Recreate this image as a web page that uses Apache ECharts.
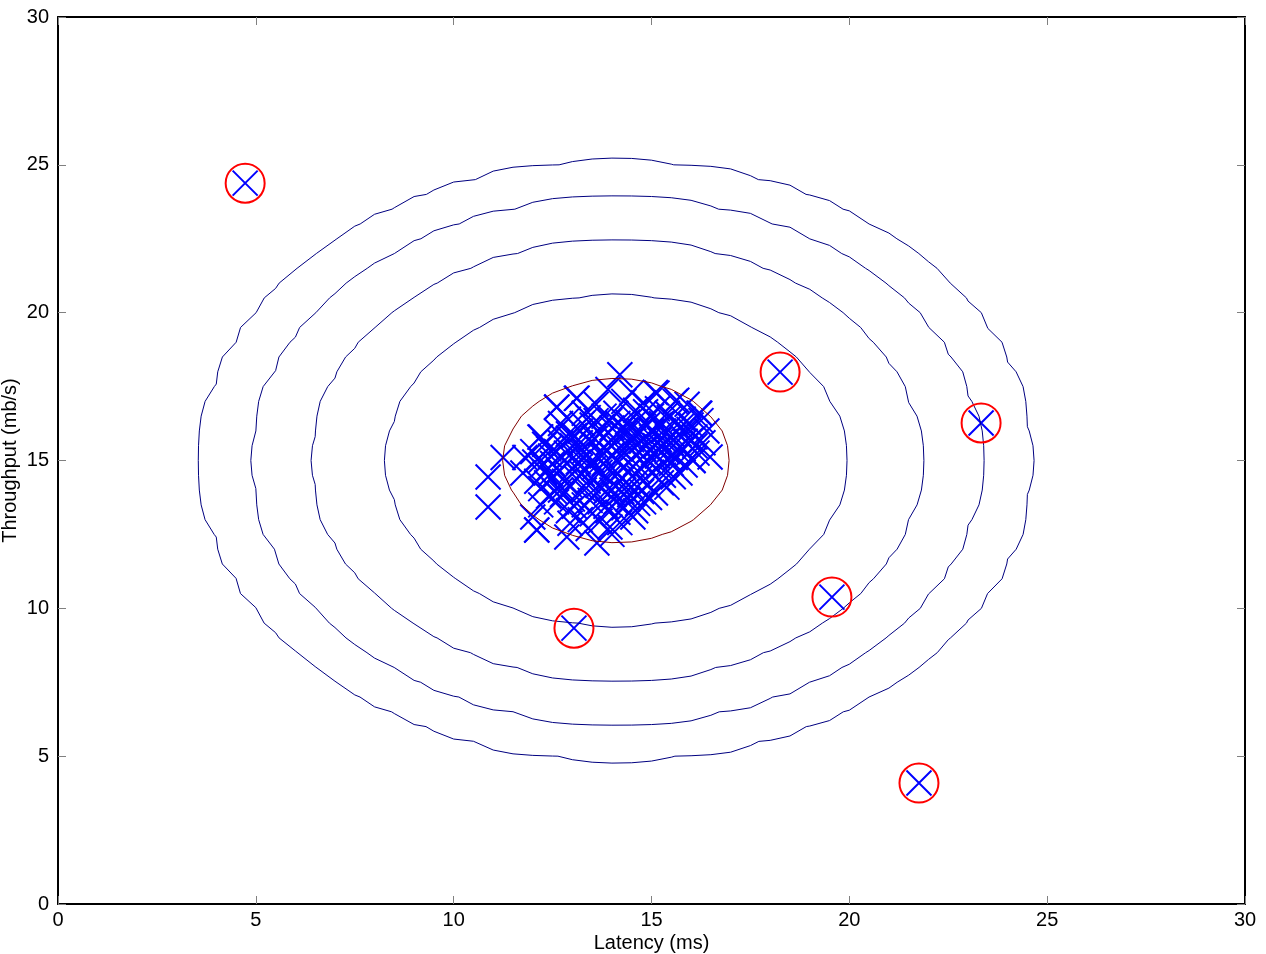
<!DOCTYPE html>
<html>
<head>
<meta charset="utf-8">
<script src="https://cdn.jsdelivr.net/npm/echarts@6/dist/echarts.min.js"></script>
<style>
html,body{margin:0;padding:0;background:#fff;}
#chart{width:1266px;height:954px;}
</style>
</head>
<body>
<div id="chart"></div>
<script>
// ---- data ----
const xTicks = [0, 5, 10, 15, 20, 25, 30];
const yTicks = [0, 5, 10, 15, 20, 25, 30];

// Gaussian fit (mean and variances) whose density contours are drawn
const mu = [14.112, 14.998];
const sigma2 = [1.8326, 1.7097];
const contourLevels = [1e-14, 1e-11, 1e-8, 1e-5, 1e-2];
const contourColors = ['#000080', '#000080', '#000080', '#000080', '#800000'];

// flagged anomalies (red circles)
const outliers = [
  [4.73, 24.38], [18.25, 17.99], [23.33, 16.27],
  [19.56, 10.38], [13.04, 9.33], [21.76, 4.09]
];

// main cloud of observations (latency, throughput)
const points = [
  [14.2,17.9],[13.9,17.4],[14.5,17.3],
  [13.1,17.1],[15.1,17.3],[15.6,17.0],[14.3,17.0],[13.6,16.9],[14.8,16.95],[12.6,16.8],[15.9,16.9],
  [13.3,16.6],[13.8,16.5],[14.1,16.6],[14.6,16.7],[15.0,16.5],[15.4,16.6],[15.8,16.4],[16.2,16.6],[12.9,16.4],[14.4,16.3],[15.2,16.2],[15.6,16.3],[16.0,16.2],[13.5,16.2],[12.6,16.0],
  [12.9,15.9],[13.2,16.0],[13.7,15.9],[14.0,16.1],[14.3,15.9],[14.7,16.0],[15.0,15.8],[15.3,16.0],[15.7,15.9],[16.1,15.8],[16.4,16.0],[13.4,15.7],[14.5,15.7],[14.9,16.2],[15.5,15.6],[12.2,15.8],
  [12.4,15.4],[12.7,15.6],[13.0,15.5],[13.3,15.3],[13.6,15.5],[13.9,15.6],[14.2,15.4],[14.4,15.5],[14.8,15.4],[15.1,15.5],[15.4,15.3],[15.8,15.4],[16.1,15.5],[13.1,15.2],[14.0,15.2],[14.6,15.2],[15.6,15.1],[12.0,15.3],[11.8,15.1],[11.25,15.1],
  [12.2,15.0],[12.5,14.9],[12.8,15.0],[13.2,14.8],[13.5,15.0],[13.8,14.9],[14.1,15.0],[14.3,14.8],[14.6,14.9],[14.9,15.0],[15.2,14.8],[15.5,14.9],[16.05,15.0],[16.48,15.12],[13.0,14.7],[13.7,14.6],[14.4,14.6],[15.0,14.6],[15.3,14.5],[11.75,14.58],[12.3,14.6],
  [12.1,14.3],[12.5,14.4],[12.8,14.3],[13.1,14.4],[13.4,14.3],[13.9,14.4],[14.2,14.3],[14.7,14.4],[15.72,14.58],[15.39,14.1],[12.7,14.0],[13.3,14.0],[13.6,13.9],[14.0,14.0],[14.5,14.1],[14.9,14.2],[15.1,13.9],[12.4,13.8],[10.87,14.44],
  [12.6,13.6],[13.0,13.7],[13.3,13.5],[13.7,13.6],[14.1,13.6],[14.4,13.7],[14.8,13.6],[12.9,13.3],[13.5,13.2],[13.9,13.3],[14.3,13.4],[14.6,13.3],[12.0,13.09],[13.2,13.0],[14.53,13.09],[10.87,13.43],
  [12.1,12.65],[12.86,12.41],[13.62,12.21],[12.94,12.88],[13.95,12.75],[13.4,12.7],
  [13.85,15.35],[14.05,15.75],[14.25,15.15],[14.35,16.05],[14.55,15.45],[14.75,15.65],[14.95,15.35],[15.15,15.15],[15.35,15.65],[15.55,15.85],[15.75,16.15],[15.95,16.05],
  [13.55,14.75],[13.75,15.15],[13.95,14.65],[14.15,14.55],[14.35,14.25],[14.65,14.65],[14.85,14.85],[15.05,15.25],[15.25,15.45],[15.45,15.05],[15.65,15.35],[15.85,15.65],[16.25,16.35],[16.15,15.25],
  [13.25,14.55],[13.45,14.85],[13.65,14.15],[13.85,13.95],[14.05,13.85],[14.25,13.95],[14.45,13.85],[14.75,13.95],[12.95,14.15],[13.15,14.95],[13.35,15.15],[13.55,15.75],[13.75,16.15],[13.95,16.35],[14.15,16.25],[14.55,16.45],[14.85,16.65],[15.15,16.75],[15.45,16.45],[15.25,16.25],
  [12.85,15.25],[12.65,14.65],[12.45,15.15],[12.25,14.85],[13.05,15.85],[13.25,16.25],[12.75,13.85],[13.05,13.45],[13.45,13.65],[13.85,13.45],[14.15,13.25],[14.65,13.55],[14.95,13.75],[15.25,14.25],[15.55,14.45],[15.85,14.85],
  [16.0,15.7],[16.3,15.6],[15.9,15.2],[14.4,15.95],[14.6,15.95],[14.8,15.75],[15.0,16.0],[15.2,15.7],[13.6,16.35],[13.2,15.6],[12.9,15.75],[12.6,15.3],[12.35,14.25],[12.55,13.95],[12.2,13.5],[13.7,12.95],[14.2,12.9],[14.0,12.5],
  [16.22,16.6],[15.64,17.04],[15.14,17.28],[16.05,15.0],[12.61,16.81],[13.12,17.11],[12.18,15.79],[12.1,12.65],
  [12.3,15.55],[12.45,14.55],[12.05,14.95],[12.7,16.25],[13.4,16.45],[12.2,14.05]
];

// ---- contour lines of the fitted density, traced on a 0.5 grid ----
function density(x, y) {
  const dx = x - mu[0], dy = y - mu[1];
  return Math.exp(-0.5 * (dx * dx / sigma2[0] + dy * dy / sigma2[1])) /
         (2 * Math.PI * Math.sqrt(sigma2[0] * sigma2[1]));
}
const step = 0.5, nGrid = 71;
const Z = [];
for (let i = 0; i < nGrid; i++) {
  Z.push([]);
  for (let j = 0; j < nGrid; j++) Z[i].push(density(i * step, j * step));
}
function contour(L) {
  const pts = [];
  for (let i = 0; i < nGrid; i++) {
    for (let j = 0; j < nGrid; j++) {
      if (i + 1 < nGrid) {
        const a = Z[i][j], b = Z[i + 1][j];
        if ((a - L) * (b - L) < 0) {
          const t = (L - a) / (b - a);
          pts.push([(i + t) * step, j * step]);
        }
      }
      if (j + 1 < nGrid) {
        const a = Z[i][j], b = Z[i][j + 1];
        if ((a - L) * (b - L) < 0) {
          const t = (L - a) / (b - a);
          pts.push([i * step, (j + t) * step]);
        }
      }
    }
  }
  pts.sort((p, q) => Math.atan2(p[1] - mu[1], p[0] - mu[0]) - Math.atan2(q[1] - mu[1], q[0] - mu[0]));
  if (pts.length) pts.push(pts[0].slice());
  return pts;
}

const font = 'Liberation Sans, Helvetica, Arial, sans-serif';
const tickStyle = { inside: true, length: 8, lineStyle: { color: '#808080', width: 1 } };
const lineStyleAxis = { show: true, onZero: false, lineStyle: { color: '#000', width: 2 } };

const series = [];
series.push({
  type: 'scatter',
  data: points.concat(outliers),
  symbol: 'path://M0,0L20,20M20,0L0,20',
  symbolSize: 25,
  itemStyle: { color: 'none', borderColor: '#0000ff', borderWidth: 2, opacity: 1 },
  silent: true,
  z: 2
});
contourLevels.forEach((L, k) => {
  series.push({
    type: 'line',
    data: contour(L),
    showSymbol: false,
    symbol: 'none',
    smooth: false,
    lineStyle: { color: contourColors[k], width: 1 },
    silent: true,
    z: 3
  });
});
series.push({
  type: 'scatter',
  data: outliers,
  symbol: 'circle',
  symbolSize: 39,
  itemStyle: { color: 'none', borderColor: '#ff0000', borderWidth: 2, opacity: 1 },
  silent: true,
  z: 4
});

const chart = echarts.init(document.getElementById('chart'), null, { renderer: 'canvas' });
chart.setOption({
  animation: false,
  backgroundColor: '#fff',
  grid: { left: 58, right: 21, top: 17, bottom: 50, containLabel: false, outerBoundsMode: 'none' },
  xAxis: [
    {
      type: 'value', min: xTicks[0], max: xTicks[xTicks.length - 1], interval: xTicks[1] - xTicks[0],
      position: 'bottom',
      axisLine: lineStyleAxis, axisTick: tickStyle, splitLine: { show: false },
      axisLabel: { color: '#000', fontSize: 20, margin: 6, fontFamily: font },
      name: 'Latency (ms)', nameLocation: 'middle', nameGap: 29, nameMoveOverlap: false,
      nameTextStyle: { color: '#000', fontSize: 20, fontFamily: font }
    },
    {
      type: 'value', min: xTicks[0], max: xTicks[xTicks.length - 1], interval: xTicks[1] - xTicks[0],
      position: 'top',
      axisLine: lineStyleAxis, axisTick: tickStyle, splitLine: { show: false },
      axisLabel: { show: false }
    }
  ],
  yAxis: [
    {
      type: 'value', min: yTicks[0], max: yTicks[yTicks.length - 1], interval: yTicks[1] - yTicks[0],
      position: 'left',
      axisLine: lineStyleAxis, axisTick: tickStyle, splitLine: { show: false },
      axisLabel: { color: '#000', fontSize: 20, margin: 9, fontFamily: font },
      name: 'Throughput (mb/s)', nameLocation: 'middle', nameGap: 38, nameMoveOverlap: false,
      nameTextStyle: { color: '#000', fontSize: 20, fontFamily: font }
    },
    {
      type: 'value', min: yTicks[0], max: yTicks[yTicks.length - 1], interval: yTicks[1] - yTicks[0],
      position: 'right',
      axisLine: lineStyleAxis, axisTick: tickStyle, splitLine: { show: false },
      axisLabel: { show: false }
    }
  ],
  series: series
});
</script>
</body>
</html>
